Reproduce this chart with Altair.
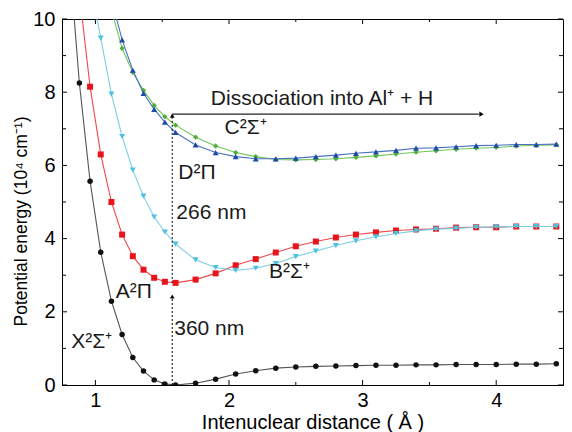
import altair as alt
import pandas as pd

# ---------------- data ----------------
G = [1.75, 1.90, 2.05, 2.20, 2.35, 2.50, 2.65, 2.80, 2.95, 3.10,
     3.25, 3.40, 3.55, 3.70, 3.85, 4.00, 4.15, 4.30, 4.45]

x_X = [0.80, 0.88, 0.96, 1.04, 1.12, 1.20, 1.28, 1.36, 1.44, 1.52, 1.60] + G
y_X = [11.9, 8.25, 5.57, 3.63, 2.29, 1.38, 0.75, 0.38, 0.14, 0.03, 0.00,
       0.05, 0.16, 0.30, 0.39, 0.46, 0.49, 0.51, 0.52, 0.53, 0.54,
       0.54, 0.55, 0.55, 0.56, 0.56, 0.56, 0.57, 0.57, 0.58]

x_A = [0.88, 0.96, 1.04, 1.12, 1.20, 1.28, 1.36, 1.44, 1.52, 1.60] + G
y_A = [10.7, 8.15, 6.30, 5.00, 4.11, 3.52, 3.15, 2.93, 2.82, 2.79,
       2.88, 3.05, 3.27, 3.44, 3.62, 3.79, 3.92, 4.03, 4.11, 4.17,
       4.22, 4.25, 4.27, 4.30, 4.31, 4.31, 4.33, 4.33, 4.33]

x_B = [0.96, 1.04, 1.12, 1.20, 1.28, 1.36, 1.44, 1.52, 1.60] + G
y_B = [11.0, 9.48, 7.95, 6.79, 5.87, 5.16, 4.59, 4.18, 3.85,
       3.42, 3.21, 3.13, 3.19, 3.32, 3.51, 3.66, 3.81, 3.94, 4.05,
       4.14, 4.21, 4.26, 4.28, 4.31, 4.32, 4.33, 4.33, 4.33]

x_D = [1.12, 1.20, 1.28, 1.36, 1.44, 1.52, 1.60] + G
y_D = [10.55, 9.43, 8.60, 7.97, 7.53, 7.18, 6.90,
       6.56, 6.35, 6.24, 6.18, 6.18, 6.20, 6.24, 6.28, 6.33, 6.37,
       6.41, 6.47, 6.48, 6.51, 6.54, 6.55, 6.57, 6.57, 6.58]

x_C = [1.12, 1.20, 1.28, 1.36, 1.44, 1.52, 1.60] + G
y_C = [10.25, 9.20, 8.54, 8.05, 7.64, 7.33, 7.10,
       6.77, 6.53, 6.35, 6.24, 6.16, 6.15, 6.16, 6.18, 6.22, 6.26,
       6.31, 6.36, 6.40, 6.44, 6.47, 6.49, 6.53, 6.55, 6.56]

x_ticks_major = [1, 2, 3, 4]
x_ticks_minor = [1.5, 2.5, 3.5]
y_ticks_major = [0, 2, 4, 6, 8, 10]
y_ticks_minor = [1, 3, 5, 7, 9]

label_text = ["Dissociation into Al⁺ + H", "C²Σ⁺", "D²Π", "266 nm",
              "B²Σ⁺", "A²Π", "X²Σ⁺", "360 nm"]
label_x = [1.864, 1.967, 1.62, 1.606, 2.30, 1.153, 0.82, 1.59]
label_y = [7.64, 6.85, 5.62, 4.54, 2.93, 2.375, 1.005, 1.37]

trans_x = 1.575
lower_arrow = [0.0, 2.36]
upper_arrow = [2.79, 7.30]
dissoc_y = 7.40
dissoc_x = [1.575, 3.87]

# ---------------- styling ----------------
W, H = 501, 366
FONT = "Liberation Sans"
xscale = alt.Scale(domain=[0.75, 4.5], nice=False, zero=False)
yscale = alt.Scale(domain=[0, 10], nice=False, zero=True)
xaxis = alt.Axis(values=x_ticks_major, ticks=False, grid=False, format="d",
                 title="Intenuclear distance ( Å )", labelFontSize=20,
                 titleFontSize=20, labelPadding=5, titlePadding=2,
                 labelFont=FONT, titleFont=FONT, titleFontWeight="normal",
                 labelColor="black", titleColor="black", domainColor="black")
yaxis = alt.Axis(values=y_ticks_major, ticks=False, grid=False, format="d",
                 title="Potential energy (10⁴ cm⁻¹)", labelFontSize=20,
                 titleFontSize=17.5, labelPadding=7, titlePadding=2,
                 titleY=H / 2 + 19,
                 labelFont=FONT, titleFont=FONT, titleFontWeight="normal",
                 labelColor="black", titleColor="black", domainColor="black")


def X(field="x"):
    return alt.X(f"{field}:Q", scale=xscale, axis=xaxis)


def Y(field="y"):
    return alt.Y(f"{field}:Q", scale=yscale, axis=yaxis)


series = [
    (x_X, y_X, "circle", "#555555", "#111111", 30),
    (x_A, y_A, "square", "#f0484c", "#e8141c", 36),
    (x_B, y_B, "triangle-down", "#78cfe6", "#4cc2e2", 36),
    (x_C, y_C, "diamond", "#72c45a", "#4daf35", 28),
    (x_D, y_D, "triangle-up", "#4b72c4", "#1f4aa8", 36),
]

layers = []
for xs, ys, shape, lc, mc, sz in series:
    df = pd.DataFrame({"x": xs, "y": ys})
    base = alt.Chart(df)
    layers.append(base.mark_line(color=lc, strokeWidth=1.1, clip=True)
                  .encode(x=X(), y=Y()))
    layers.append(base.mark_point(shape=shape, filled=True, color=mc, size=sz,
                                  opacity=1, clip=True)
                  .encode(x=X(), y=Y()))

# dotted transition lines
seg_df = pd.DataFrame({
    "x": [trans_x, trans_x], "y": [lower_arrow[0], upper_arrow[0]],
    "y2": [lower_arrow[1], upper_arrow[1]]})
layers.append(alt.Chart(seg_df).mark_rule(color="black", strokeWidth=1,
                                           strokeDash=[2, 2])
              .encode(x=X(), y=Y(), y2="y2:Q"))
head_df = pd.DataFrame({"x": [trans_x, trans_x],
                        "y": [lower_arrow[1] + 0.06, upper_arrow[1] + 0.06]})
layers.append(alt.Chart(head_df).mark_point(shape="triangle-up", filled=True,
                                             color="black", size=22, opacity=1)
              .encode(x=X(), y=Y()))

# dissociation arrow
dis_df = pd.DataFrame({"x": [dissoc_x[0]], "x2": [dissoc_x[1]], "y": [dissoc_y]})
layers.append(alt.Chart(dis_df).mark_rule(color="#222222", strokeWidth=1.2)
              .encode(x=X(), x2="x2:Q", y=Y()))
dh_df = pd.DataFrame({"x": [dissoc_x[1] + 0.02], "y": [dissoc_y]})
layers.append(alt.Chart(dh_df).mark_point(shape="triangle-right", filled=True,
                                           color="black", size=26, opacity=1)
              .encode(x=X(), y=Y()))

# text labels
lab_df = pd.DataFrame({"x": label_x, "y": label_y, "t": label_text})
layers.append(alt.Chart(lab_df).mark_text(align="left", baseline="alphabetic",
                                           fontSize=21, font=FONT, color="#1a1a1a")
              .encode(x=X(), y=Y(), text="t:N"))

# inward ticks on all four sides
xt = pd.DataFrame({"x": x_ticks_major + x_ticks_minor,
                   "len": [5] * len(x_ticks_major) + [3] * len(x_ticks_minor)})
yt = pd.DataFrame({"y": y_ticks_major + y_ticks_minor,
                   "len": [5] * len(y_ticks_major) + [4] * len(y_ticks_minor)})
for ypos, sign in [(H, -1), (0, 1)]:
    for L in (5, 3):
        d = xt[xt["len"] == L]
        layers.append(alt.Chart(d).mark_rule(color="black", strokeWidth=1)
                      .encode(x=X(), y=alt.value(ypos),
                              y2=alt.value(ypos + sign * L)))
for xpos, sign in [(0, 1), (W, -1)]:
    for L in (5, 4):
        d = yt[yt["len"] == L]
        layers.append(alt.Chart(d).mark_rule(color="black", strokeWidth=1)
                      .encode(y=Y(), x=alt.value(xpos),
                              x2=alt.value(xpos + sign * L)))

chart = (alt.layer(*layers)
         .properties(width=W, height=H,
                     autosize=alt.AutoSizeParams(type="none"),
                     padding={"left": 54, "top": 11, "right": 1, "bottom": 47},
                     background="white")
         .configure_view(stroke="black", strokeWidth=1))

chart.save("out.html", embed_options={"renderer": "svg", "actions": False})
